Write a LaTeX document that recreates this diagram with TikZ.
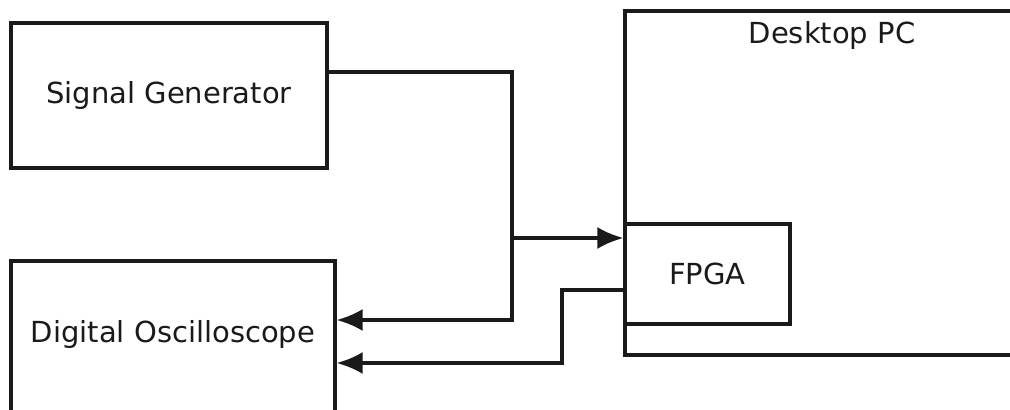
\documentclass[tikz,border=0pt]{standalone}
\usepackage{fontspec}
\setmainfont{DejaVu Sans}
\usetikzlibrary{arrows.meta, calc}
\definecolor{cLine}{HTML}{1A1A1A}
\definecolor{cText}{HTML}{1A1A1A}
\tikzset{
    box/.style  ={draw=cLine, line width=1.6pt, align=center, text=cText,
                  font=\fontsize{14.5}{17}\selectfont, inner sep=0pt},
    wire/.style ={-{Latex[length=13pt, width=11pt]}, line width=1.6pt, cLine},
}

\begin{document}
\begin{tikzpicture}[x=0.5pt, y=-0.5pt]
\useasboundingbox (0,0) rectangle (1010,410);
\clip (0,0) rectangle (1010,410);

% ===================== Instrumentos =====================
\node[box, minimum width=158pt, minimum height=72.5pt] (sg) at (169,95.5)
     {Signal Generator};
\node[box, minimum width=162pt, minimum height=76pt] (osc) at (173,337)
     {};
\node[text=cText, font=\fontsize{14.5}{17}\selectfont] (osclbl) at (173,335)
     {Digital Oscilloscope};

% ===================== PC y FPGA =====================
\node[box, minimum width=207pt, minimum height=172pt] (pc) at (832,183) {};
\node[text=cText, font=\fontsize{14.5}{17}\selectfont, anchor=north,
      inner sep=0pt] (pclbl) at ($(pc.north)+(0,12)$) {Desktop PC};
\node[box, fill=white, minimum width=82.5pt, minimum height=50pt] (fpga)
     at (707.5,274) {FPGA};

% ===================== Puntos de paso =====================
\coordinate (a1) at (512,72);
\coordinate (a2) at (512,320);
\coordinate (tap) at (512,238);
\coordinate (b1) at (562,290);
\coordinate (b2) at (562,363);

% ===================== Conexiones =====================
\draw[wire] (sg.east |- a1) -- (a1) -- (a2) -- (osc.east |- a2);
\draw[wire] (tap) -- (fpga.west |- tap);
\draw[wire] (fpga.west |- b1) -- (b1) -- (b2) -- (osc.east |- b2);

\end{tikzpicture}
\end{document}
